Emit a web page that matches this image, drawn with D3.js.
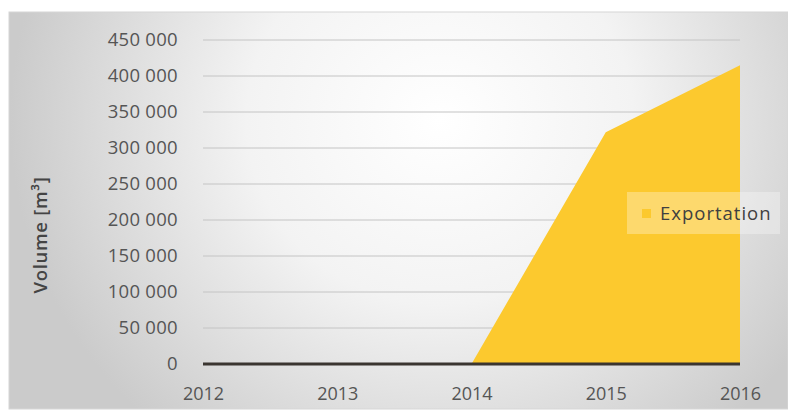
<!DOCTYPE html>
<html><head><meta charset="utf-8">
<script src="https://cdn.jsdelivr.net/npm/d3@7"></script>
<style>body{margin:0;background:#fff;}svg{display:block;}</style>
</head><body>
<script>
const years = [2012, 2013, 2014, 2015, 2016];
const exportation = [0, 0, 0, 322000, 415000];
const yTicks = [0, 50000, 100000, 150000, 200000, 250000, 300000, 350000, 400000, 450000];
const seriesName = "Exportation";
const yTitle = "Volume [m³]";

const W = 788, H = 410;
const FONT = "'Open Sans', sans-serif";
const svg = d3.select("body").append("svg").attr("width", W).attr("height", H);
const defs = svg.append("defs");
const rg = defs.append("radialGradient").attr("id","bg")
  .attr("gradientUnits","userSpaceOnUse").attr("cx",440).attr("cy",120).attr("r",430)
  .attr("gradientTransform","translate(440,120) scale(1,0.95) translate(-440,-120)");
rg.append("stop").attr("offset","0%").attr("stop-color","#ffffff");
rg.append("stop").attr("offset","45%").attr("stop-color","#f3f3f3");
rg.append("stop").attr("offset","100%").attr("stop-color","#cbcbcb");

svg.append("rect").attr("x",9).attr("y",12).attr("width",W-9).attr("height",397)
  .attr("fill","url(#bg)").attr("stroke","#d6d6d6").attr("stroke-width",1);

const x = d3.scaleLinear().domain([2012, 2016]).range([203, 740]);
const y = d3.scaleLinear().domain([0, 450000]).range([364, 40]);

const fmt = v => d3.format(",")(v).replace(/,/g, " ");

// gridlines
svg.append("g").selectAll("line").data(yTicks.filter(d => d > 0)).join("line")
  .attr("x1", x(2012)).attr("x2", x(2016))
  .attr("y1", d => y(d)).attr("y2", d => y(d))
  .attr("stroke", "#c4c4c4").attr("stroke-width", 1);

// area
const data = years.map((yr, i) => ({yr, v: exportation[i]}));
svg.append("path").datum(data)
  .attr("fill", "#fcc92e")
  .attr("d", d3.area().x(d => x(d.yr)).y0(y(0)).y1(d => y(d.v)));

// zero line
svg.append("line").attr("x1", x(2012)).attr("x2", x(2016))
  .attr("y1", y(0)).attr("y2", y(0))
  .attr("stroke", "#3a3530").attr("stroke-width", 3);

// y axis labels
const yAxis = d3.axisLeft(y).tickValues(yTicks).tickFormat(fmt).tickSize(0).tickPadding(0);
const gy = svg.append("g").attr("transform", "translate(178,0)").call(yAxis);
gy.select(".domain").remove();
gy.selectAll("text").attr("font-family", FONT)
  .attr("font-size", 18.5).attr("fill", "#555").attr("letter-spacing", 0.3);

// x axis labels
const xAxis = d3.axisBottom(x).tickValues(years).tickFormat(d3.format("d")).tickSize(0).tickPadding(0);
const gx = svg.append("g").attr("transform", "translate(0,387)").call(xAxis);
gx.select(".domain").remove();
gx.selectAll("text").attr("font-family", FONT)
  .attr("font-size", 18).attr("fill", "#555");

// y title
svg.append("text").attr("transform", "translate(47,235) rotate(-90)")
  .attr("text-anchor", "middle").attr("font-family", FONT)
  .attr("font-size", 18.5).attr("font-weight", 600).attr("letter-spacing", 0.7)
  .attr("fill", "#444").text(yTitle);

// legend
const lg = svg.append("g");
lg.append("rect").attr("x", 627).attr("y", 192).attr("width", 153).attr("height", 42)
  .attr("fill", "#ffffff").attr("fill-opacity", 0.3);
lg.append("rect").attr("x", 642).attr("y", 209).attr("width", 9).attr("height", 9).attr("fill", "#fcc92e");
lg.append("text").attr("x", 660).attr("y", 220).attr("font-family", FONT)
  .attr("font-size", 18.5).attr("letter-spacing", 1).attr("fill", "#404040").text(seriesName);
</script>
</body></html>
